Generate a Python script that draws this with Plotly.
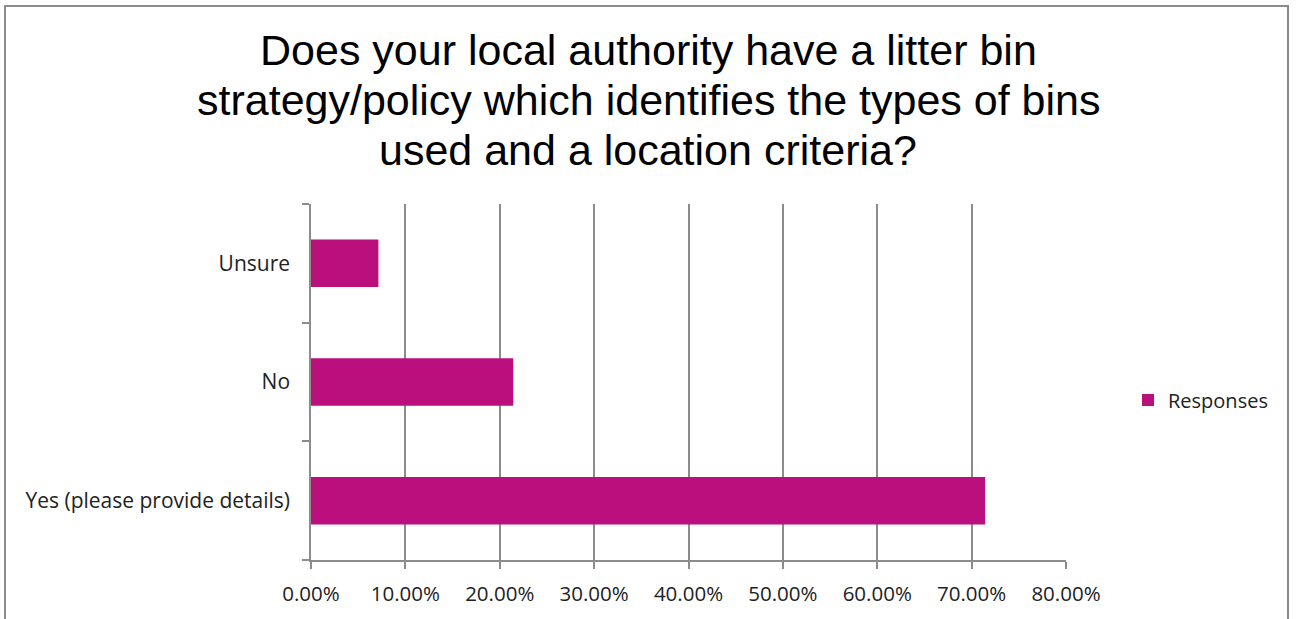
import plotly.graph_objects as go

# Survey answers (bottom to top) and share of responses
categories = ["Yes (please provide details)", "No", "Unsure"]
shares = [0.7143, 0.2143, 0.0714]
series_name = "Responses"
x_ticks = [0, 0.1, 0.2, 0.3, 0.4, 0.5, 0.6, 0.7, 0.8]
x_tick_labels = ["0.00%", "10.00%", "20.00%", "30.00%", "40.00%",
                 "50.00%", "60.00%", "70.00%", "80.00%"]

title_lines = [
    "Does your local authority have a litter bin",
    "strategy/policy which identifies the types of bins",
    "used and a location criteria?",
]

BAR = "#BC0F7E"
GRID = "#8C8C8C"
TEXT = "#222222"
FAMILY = "Open Sans, Lato, sans-serif"

W, H = 1296, 619
L, R, T, B = 311, 230, 204, 59
pw = W - L - R
ph = H - T - B


def py(pixel_y):
    """Convert a pixel row (from the top) to paper y."""
    return (H - B - pixel_y) / ph


def px(pixel_x):
    """Convert a pixel column (from the left) to paper x."""
    return (pixel_x - L) / pw


fig = go.Figure(
    go.Bar(
        x=shares,
        y=categories,
        orientation="h",
        name=series_name,
        marker=dict(color=BAR, line=dict(width=0)),
        showlegend=True,
    )
)

# Three centred title lines with tight line spacing
title_rows = [50, 99.5, 150]
annotations = [
    dict(
        text=line,
        xref="paper",
        yref="paper",
        x=px(W / 2),
        y=py(row),
        xanchor="center",
        yanchor="middle",
        showarrow=False,
        font=dict(family="Liberation Sans, Arial, sans-serif", size=43, color="black"),
    )
    for line, row in zip(title_lines, title_rows)
]

fig.update_layout(
    width=W,
    height=H,
    margin=dict(l=L, r=R, t=T, b=B),
    paper_bgcolor="white",
    plot_bgcolor="white",
    bargap=0.6,
    annotations=annotations,
    xaxis=dict(
        range=[0, 0.8],
        tickvals=x_ticks,
        ticktext=x_tick_labels,
        showgrid=True,
        gridcolor=GRID,
        gridwidth=1.5,
        showline=True,
        linecolor=GRID,
        linewidth=1.5,
        ticks="outside",
        ticklen=7,
        tickcolor=GRID,
        tickwidth=1.5,
        tickfont=dict(family=FAMILY, size=20.5, color=TEXT),
        ticklabelstandoff=8,
        zeroline=False,
        fixedrange=True,
    ),
    yaxis=dict(
        type="category",
        categoryorder="array",
        categoryarray=categories,
        tickson="boundaries",
        ticks="outside",
        ticklen=7,
        tickcolor=GRID,
        tickwidth=1.5,
        showgrid=False,
        showline=True,
        linecolor=GRID,
        linewidth=1.5,
        tickfont=dict(family=FAMILY, size=21, color=TEXT),
        ticklabelstandoff=15,
        fixedrange=True,
    ),
    legend=dict(
        x=px(1128),
        y=py(400),
        xanchor="left",
        yanchor="middle",
        font=dict(family=FAMILY, size=20, color=TEXT),
        bgcolor="rgba(0,0,0,0)",
        itemwidth=30,
    ),
    shapes=[
        dict(
            type="rect",
            xref="paper",
            yref="paper",
            x0=px(5),
            x1=px(1288),
            y0=-0.5,
            y1=py(6),
            line=dict(color=GRID, width=2),
            fillcolor="rgba(0,0,0,0)",
            layer="below",
        )
    ],
)

fig.write_html("out.html")
